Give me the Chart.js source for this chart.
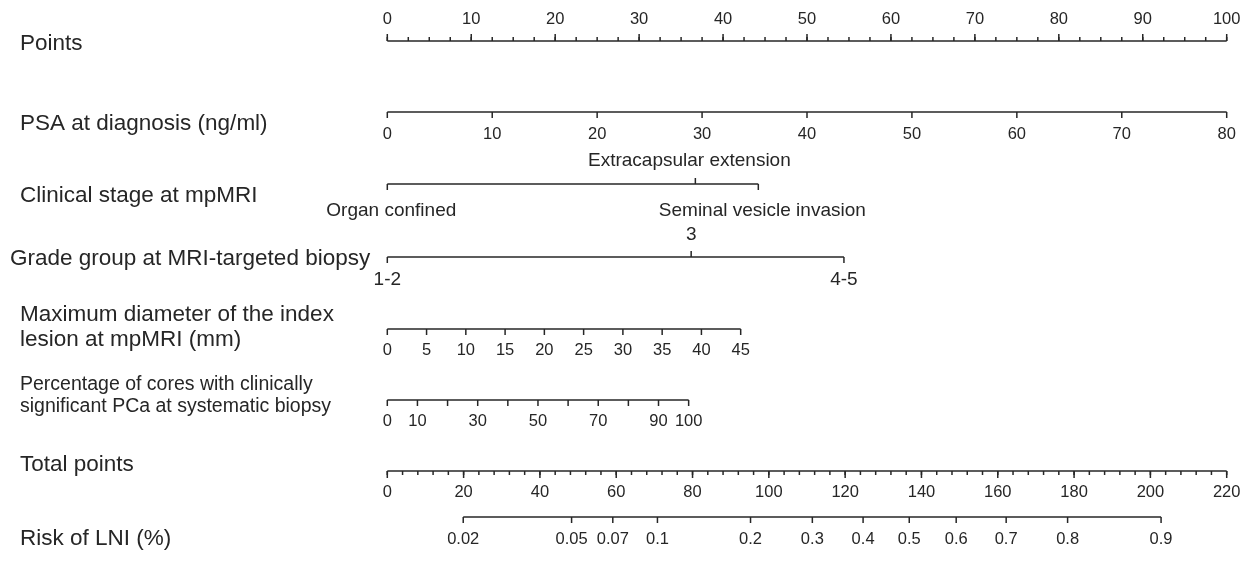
<!DOCTYPE html>
<html>
<head>
<meta charset="utf-8">
<script src="https://cdn.jsdelivr.net/npm/chart.js@4.4.1/dist/chart.umd.min.js"></script>
<style>
  html, body { margin: 0; padding: 0; background: #fff; }
  #wrap { width: 1247px; height: 572px; }
</style>
</head>
<body>
<div id="wrap"><canvas id="nomo"></canvas></div>
<script>
// values
const pointsTicks = [0, 10, 20, 30, 40, 50, 60, 70, 80, 90, 100];
const psaTicks = [0, 10, 20, 30, 40, 50, 60, 70, 80];
const psaMaxPoints = 100;
const stageLabels = ['Organ confined', 'Extracapsular extension', 'Seminal vesicle invasion'];
const stagePoints = [0, 36.7, 44.2];
const gradeLabels = ['1-2', '3', '4-5'];
const gradePoints = [0, 36.2, 54.4];
const diameterTicks = [0, 5, 10, 15, 20, 25, 30, 35, 40, 45];
const diameterMaxPoints = 42.1;
const coresTicks = [0, 10, 20, 30, 40, 50, 60, 70, 80, 90, 100];
const coresTickLabels = ['0', '10', '', '30', '', '50', '', '70', '', '90', '100'];
const coresMaxPoints = 35.9;
const totalTicks = [0, 20, 40, 60, 80, 100, 120, 140, 160, 180, 200, 220];
const riskLabels = ['0.02', '0.05', '0.07', '0.1', '0.2', '0.3', '0.4', '0.5', '0.6', '0.7', '0.8', '0.9'];
const riskTotalPoints = [19.9, 48.3, 59.1, 70.8, 95.2, 111.4, 124.7, 136.8, 149.1, 162.2, 178.3, 202.8];

const FONT = 'Liberation Sans, Arial, sans-serif';
const INK = '#262626';

const nomogram = {
  id: 'nomogram',
  afterDraw(chart) {
    const ctx = chart.ctx;
    const X = v => chart.scales.x.getPixelForValue(v);
    const Y = v => chart.scales.y.getPixelForValue(v);
    ctx.save();
    ctx.strokeStyle = INK;
    ctx.fillStyle = INK;
    ctx.lineWidth = 1.5;
    ctx.textAlign = 'center';
    ctx.textBaseline = 'middle';

    const line = (y, p0, p1) => {
      ctx.beginPath(); ctx.moveTo(X(p0), Y(y)); ctx.lineTo(X(p1), Y(y)); ctx.stroke();
    };
    const tick = (p, y, len) => {
      ctx.beginPath(); ctx.moveTo(X(p), Y(y)); ctx.lineTo(X(p), Y(y) + len); ctx.stroke();
    };
    const text = (s, p, y, size, dx = 0) => {
      ctx.font = size + 'px ' + FONT;
      ctx.fillText(s, X(p) + dx, Y(y));
    };
    const name = (s, y, size, left = 20) => {
      ctx.font = size + 'px ' + FONT;
      ctx.textAlign = 'left';
      ctx.fillText(s, left, Y(y));
      ctx.textAlign = 'center';
    };

    const tickFont = 16.5;
    const nameFont = 22.5;
    const levelFont = 19;

    // Points
    name('Points', 44, nameFont);
    line(41, 0, 100);
    for (let p = 0; p <= 100; p += 2.5) tick(p, 41, -4);
    pointsTicks.forEach(v => { tick(v, 41, -7); text(String(v), v, 19, tickFont); });

    // PSA
    name('PSA at diagnosis (ng/ml)', 124, nameFont);
    const psaScale = psaMaxPoints / psaTicks[psaTicks.length - 1];
    line(112, 0, psaMaxPoints);
    psaTicks.forEach(v => { tick(v * psaScale, 112, 6); text(String(v), v * psaScale, 134, tickFont); });

    // Clinical stage
    name('Clinical stage at mpMRI', 196, nameFont);
    line(184, Math.min(...stagePoints), Math.max(...stagePoints));
    stagePoints.forEach((p, i) => {
      const up = i % 2 === 1;
      tick(p, 184, up ? -6 : 6);
      text(stageLabels[i], p, up ? 161 : 211, levelFont, up ? -6 : 4);
    });

    // Grade group
    name('Grade group at MRI-targeted biopsy', 259, nameFont, 10);
    line(257, Math.min(...gradePoints), Math.max(...gradePoints));
    gradePoints.forEach((p, i) => {
      const up = i % 2 === 1;
      tick(p, 257, up ? -6 : 6);
      text(gradeLabels[i], p, up ? 235 : 280, levelFont);
    });

    // Max diameter
    name('Maximum diameter of the index', 315, nameFont);
    name('lesion at mpMRI (mm)', 340, nameFont);
    const diaScale = diameterMaxPoints / diameterTicks[diameterTicks.length - 1];
    line(329, 0, diameterMaxPoints);
    diameterTicks.forEach(v => { tick(v * diaScale, 329, 6); text(String(v), v * diaScale, 350, tickFont); });

    // Percentage cores
    name('Percentage of cores with clinically', 385, 19.5);
    name('significant PCa at systematic biopsy', 407, 19.5);
    const corScale = coresMaxPoints / coresTicks[coresTicks.length - 1];
    line(400, 0, coresMaxPoints);
    coresTicks.forEach((v, i) => {
      tick(v * corScale, 400, 6);
      if (coresTickLabels[i]) text(coresTickLabels[i], v * corScale, 421, tickFont);
    });

    // Total points
    name('Total points', 465, nameFont);
    const totScale = 100 / totalTicks[totalTicks.length - 1];
    line(471, 0, 100);
    for (let t = 0; t <= 220; t += 4) tick(t * totScale, 471, 4);
    totalTicks.forEach(v => { tick(v * totScale, 471, 7); text(String(v), v * totScale, 492, tickFont); });

    // Risk
    name('Risk of LNI (%)', 539, nameFont);
    line(517, riskTotalPoints[0] * totScale, riskTotalPoints[riskTotalPoints.length - 1] * totScale);
    riskTotalPoints.forEach((t, i) => {
      tick(t * totScale, 517, 6);
      text(riskLabels[i], t * totScale, 539, tickFont);
    });

    ctx.restore();
  }
};

// x axis in "points": 0 sits at 387px, 100 at 1227px
const pxPerPoint = 839.4 / 100;
new Chart(document.getElementById('nomo'), {
  type: 'scatter',
  data: { datasets: [] },
  options: {
    responsive: true,
    maintainAspectRatio: false,
    animation: false,
    layout: { padding: 0 },
    plugins: { legend: { display: false }, tooltip: { enabled: false } },
    scales: {
      x: { type: 'linear', display: false, min: -387.3 / pxPerPoint, max: (1247 - 387.3) / pxPerPoint },
      y: { type: 'linear', display: false, min: 0, max: 572, reverse: true }
    }
  },
  plugins: [nomogram]
});
</script>
</body>
</html>
